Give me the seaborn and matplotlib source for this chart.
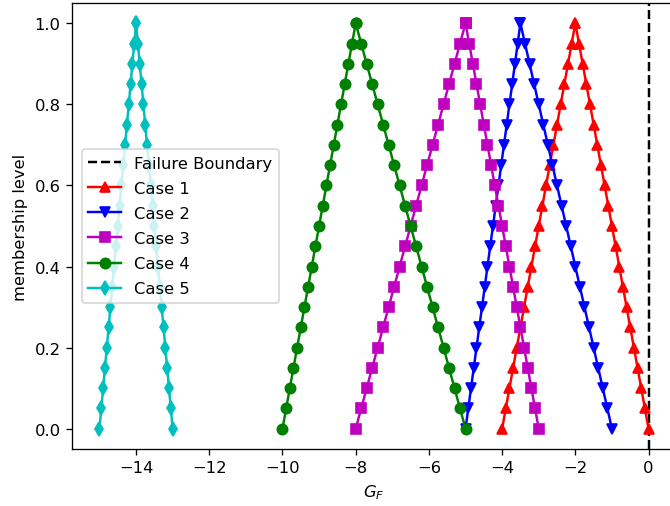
import matplotlib
matplotlib.use("Agg")
import matplotlib.pyplot as plt
import seaborn as sns

# membership levels (alpha-cuts)
alpha = [0.0, 0.05, 0.1, 0.15, 0.2, 0.25, 0.3, 0.35, 0.4, 0.45, 0.5,
         0.55, 0.6, 0.65, 0.7, 0.75, 0.8, 0.85, 0.9, 0.95, 1.0]

case1_lower = [-4.0, -3.9, -3.8, -3.7, -3.6, -3.5, -3.4, -3.3, -3.2, -3.1, -3.0,
               -2.9, -2.8, -2.7, -2.6, -2.5, -2.4, -2.3, -2.2, -2.1, -2.0]
case1_upper = [0.0, -0.1, -0.2, -0.3, -0.4, -0.5, -0.6, -0.7, -0.8, -0.9, -1.0,
               -1.1, -1.2, -1.3, -1.4, -1.5, -1.6, -1.7, -1.8, -1.9, -2.0]
case2_lower = [-5.0, -4.925, -4.85, -4.775, -4.7, -4.625, -4.55, -4.475, -4.4, -4.325, -4.25,
               -4.175, -4.1, -4.025, -3.95, -3.875, -3.8, -3.725, -3.65, -3.575, -3.5]
case2_upper = [-1.0, -1.125, -1.25, -1.375, -1.5, -1.625, -1.75, -1.875, -2.0, -2.125, -2.25,
               -2.375, -2.5, -2.625, -2.75, -2.875, -3.0, -3.125, -3.25, -3.375, -3.5]
case3_lower = [-8.0, -7.85, -7.7, -7.55, -7.4, -7.25, -7.1, -6.95, -6.8, -6.65, -6.5,
               -6.35, -6.2, -6.05, -5.9, -5.75, -5.6, -5.45, -5.3, -5.15, -5.0]
case3_upper = [-3.0, -3.1, -3.2, -3.3, -3.4, -3.5, -3.6, -3.7, -3.8, -3.9, -4.0,
               -4.1, -4.2, -4.3, -4.4, -4.5, -4.6, -4.7, -4.8, -4.9, -5.0]
case4_lower = [-10.0, -9.9, -9.8, -9.7, -9.6, -9.5, -9.4, -9.3, -9.2, -9.1, -9.0,
               -8.9, -8.8, -8.7, -8.6, -8.5, -8.4, -8.3, -8.2, -8.1, -8.0]
case4_upper = [-5.0, -5.15, -5.3, -5.45, -5.6, -5.75, -5.9, -6.05, -6.2, -6.35, -6.5,
               -6.65, -6.8, -6.95, -7.1, -7.25, -7.4, -7.55, -7.7, -7.85, -8.0]
case5_lower = [-15.0, -14.95, -14.9, -14.85, -14.8, -14.75, -14.7, -14.65, -14.6, -14.55, -14.5,
               -14.45, -14.4, -14.35, -14.3, -14.25, -14.2, -14.15, -14.1, -14.05, -14.0]
case5_upper = [-13.0, -13.05, -13.1, -13.15, -13.2, -13.25, -13.3, -13.35, -13.4, -13.45, -13.5,
               -13.55, -13.6, -13.65, -13.7, -13.75, -13.8, -13.85, -13.9, -13.95, -14.0]

case_names = ["Case 1", "Case 2", "Case 3", "Case 4", "Case 5"]
lowers = [case1_lower, case2_lower, case3_lower, case4_lower, case5_lower]
uppers = [case1_upper, case2_upper, case3_upper, case4_upper, case5_upper]
colors = ["red", "blue", "m", "green", "c"]
markers = ["^", "v", "s", "o", "d"]
failure_boundary = 0.0

DPI = 118
fig = plt.figure(figsize=(670 / DPI, 507 / DPI), dpi=DPI)
ax = fig.add_axes([72 / 670, 57 / 507, 604 / 670, 446 / 507])

ax.axvline(failure_boundary, color="black", linestyle="--", label="Failure Boundary")

for name, lo, up, c, m in zip(case_names, lowers, uppers, colors, markers):
    xs = list(lo) + list(up)[::-1]
    ys = list(alpha) + list(alpha)[::-1]
    sns.lineplot(x=xs, y=ys, sort=False, estimator=None, ax=ax, color=c,
                 marker=m, markersize=6.3, markeredgecolor=c, markeredgewidth=1,
                 linewidth=1.5, label=name)

ax.set_xlim(-15.75, 0.75)
ax.set_ylim(-0.05, 1.05)
ax.set_xticks([-14, -12, -10, -8, -6, -4, -2, 0])
ax.set_yticks([0.0, 0.2, 0.4, 0.6, 0.8, 1.0])
ax.set_xlabel("$G_F$")
ax.set_ylabel("membership level")
ax.legend(loc="center left", labelspacing=0.62, borderaxespad=0.6)

fig.savefig("out.png", dpi=DPI)
